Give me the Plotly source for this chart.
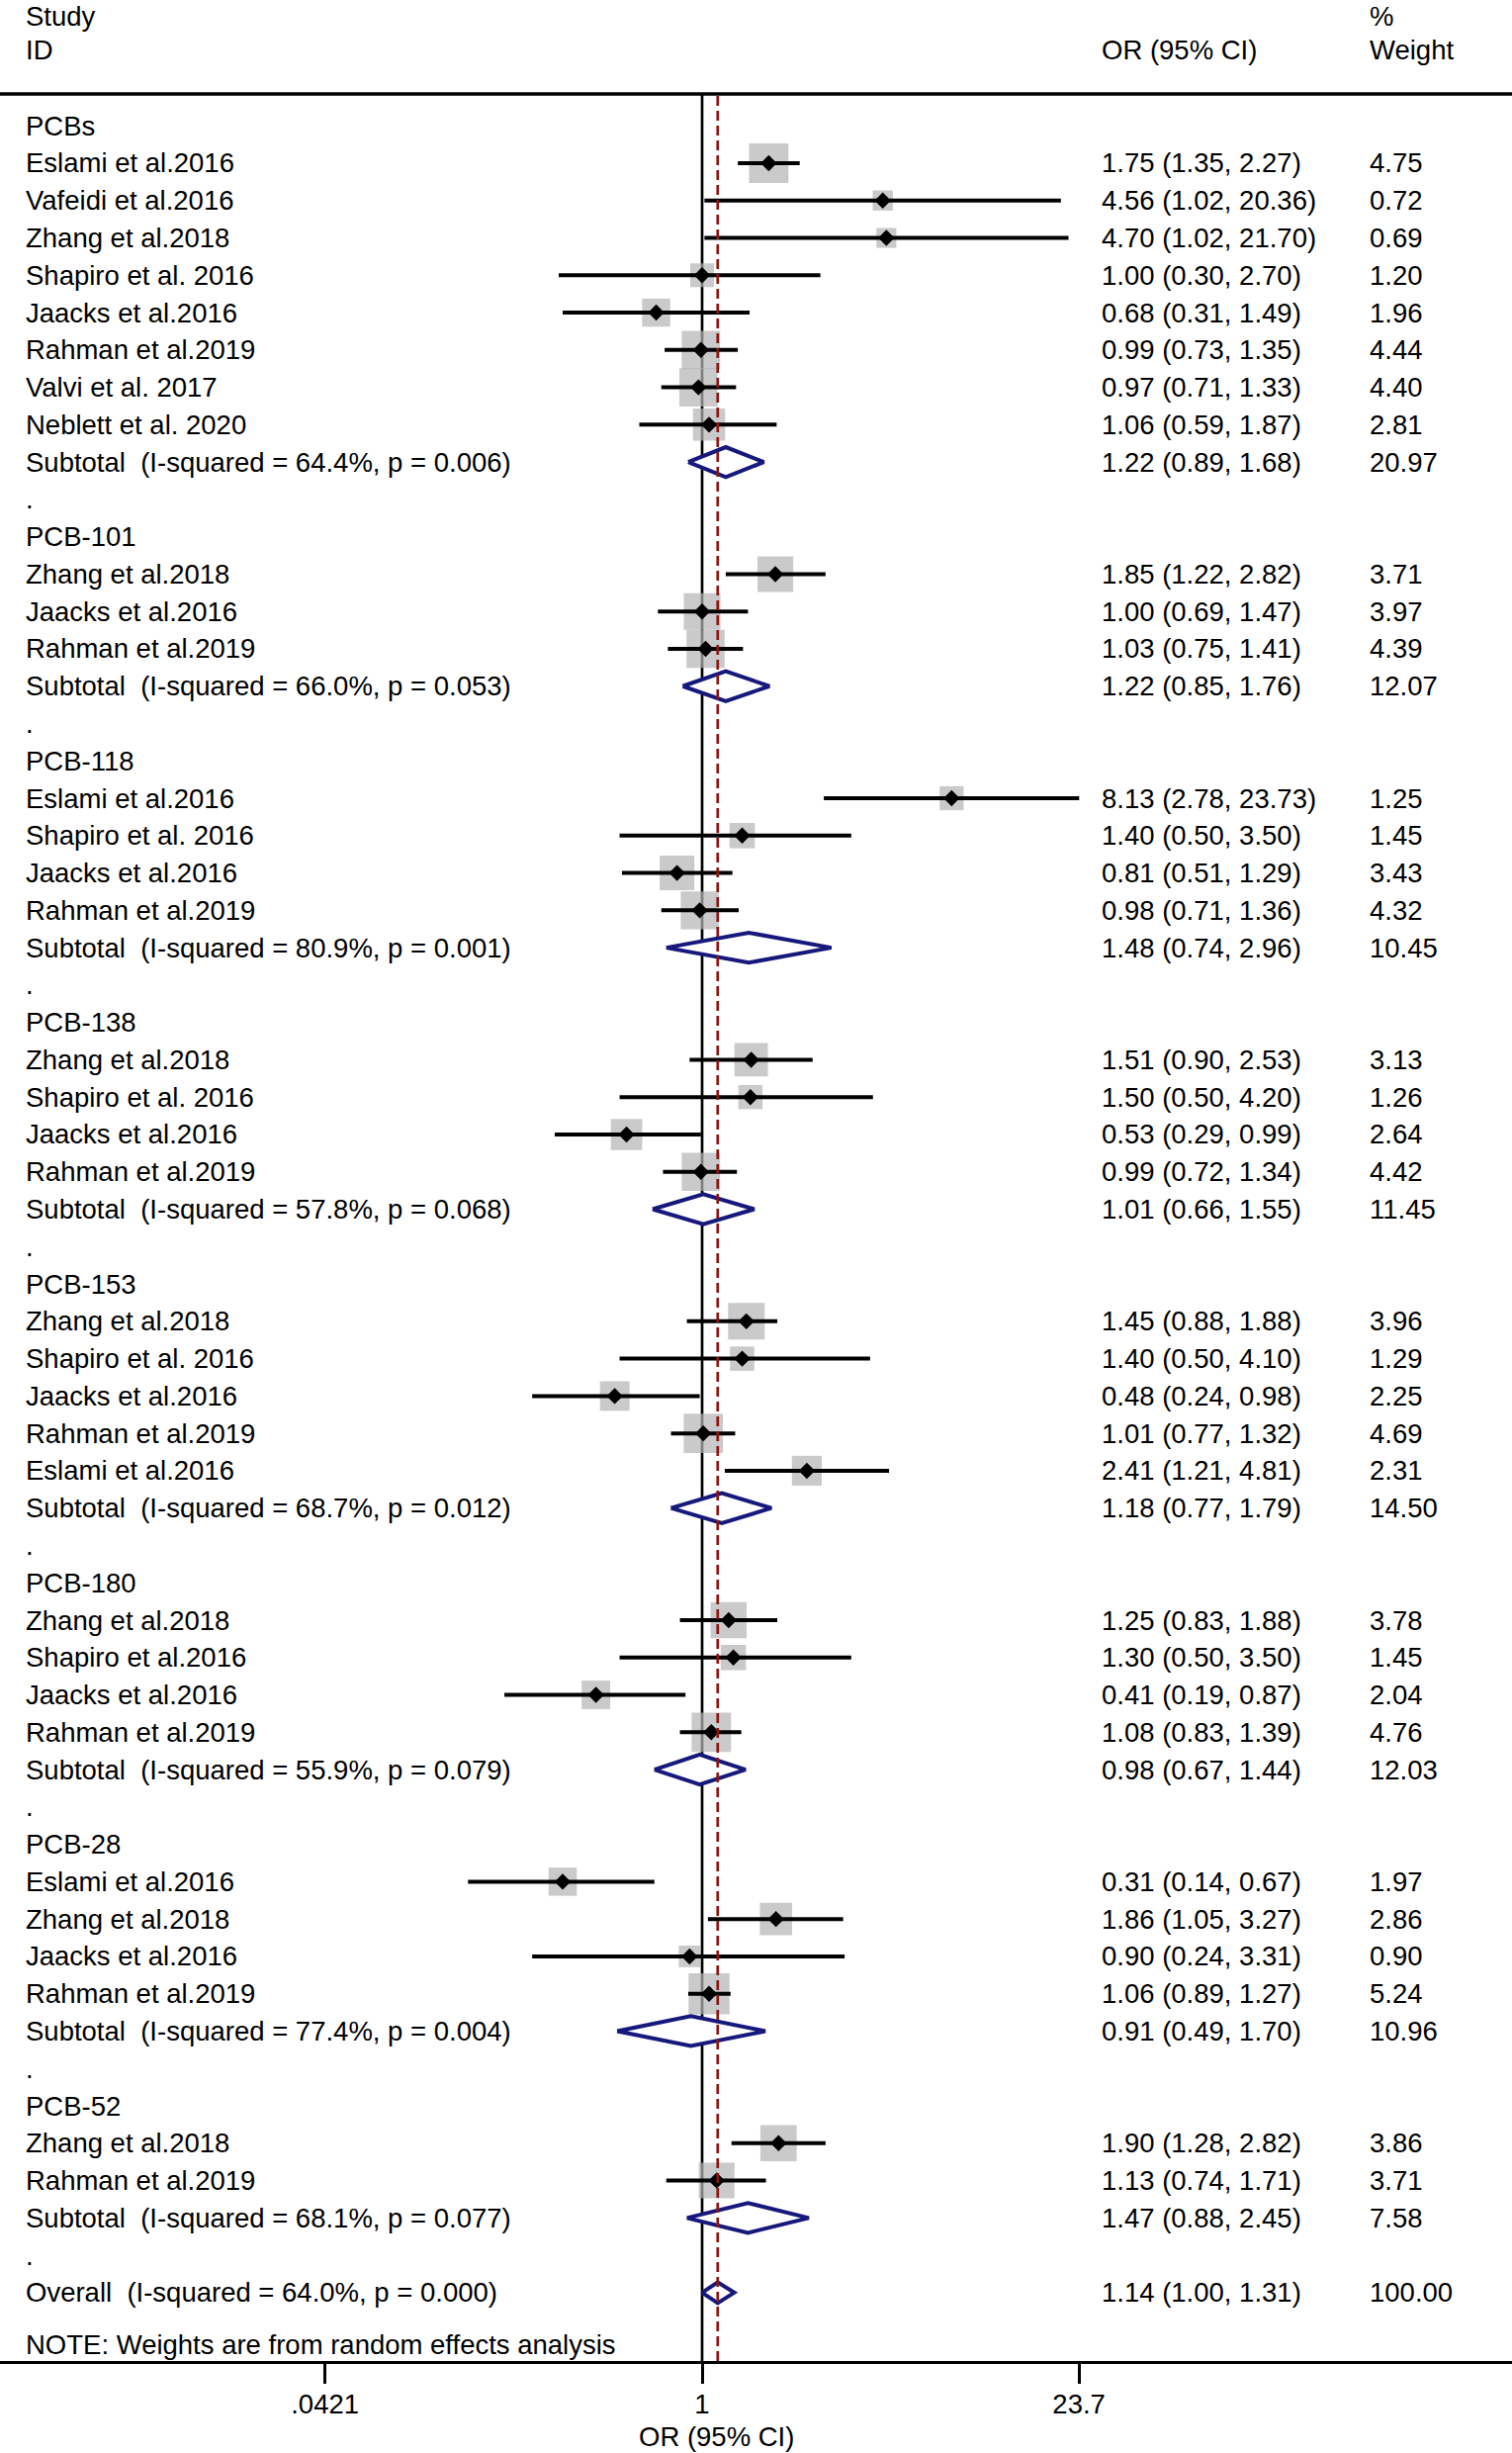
import math
import plotly.graph_objects as go

# ---------------- data ----------------
row_labels = [
    "PCBs", "Eslami et al.2016", "Vafeidi et al.2016", "Zhang et al.2018", "Shapiro et al. 2016",
    "Jaacks et al.2016", "Rahman et al.2019", "Valvi et al. 2017", "Neblett et al. 2020",
    "Subtotal  (I-squared = 64.4%, p = 0.006)", ".",
    "PCB-101", "Zhang et al.2018", "Jaacks et al.2016", "Rahman et al.2019",
    "Subtotal  (I-squared = 66.0%, p = 0.053)", ".",
    "PCB-118", "Eslami et al.2016", "Shapiro et al. 2016", "Jaacks et al.2016", "Rahman et al.2019",
    "Subtotal  (I-squared = 80.9%, p = 0.001)", ".",
    "PCB-138", "Zhang et al.2018", "Shapiro et al. 2016", "Jaacks et al.2016", "Rahman et al.2019",
    "Subtotal  (I-squared = 57.8%, p = 0.068)", ".",
    "PCB-153", "Zhang et al.2018", "Shapiro et al. 2016", "Jaacks et al.2016", "Rahman et al.2019",
    "Eslami et al.2016", "Subtotal  (I-squared = 68.7%, p = 0.012)", ".",
    "PCB-180", "Zhang et al.2018", "Shapiro et al.2016", "Jaacks et al.2016", "Rahman et al.2019",
    "Subtotal  (I-squared = 55.9%, p = 0.079)", ".",
    "PCB-28", "Eslami et al.2016", "Zhang et al.2018", "Jaacks et al.2016", "Rahman et al.2019",
    "Subtotal  (I-squared = 77.4%, p = 0.004)", ".",
    "PCB-52", "Zhang et al.2018", "Rahman et al.2019",
    "Subtotal  (I-squared = 68.1%, p = 0.077)", ".",
    "Overall  (I-squared = 64.0%, p = 0.000)",
]

or_vals = [None, 1.75, 4.56, 4.70, 1.00, 0.68, 0.99, 0.97, 1.06, 1.22, None,
           None, 1.85, 1.00, 1.03, 1.22, None,
           None, 8.13, 1.40, 0.81, 0.98, 1.48, None,
           None, 1.51, 1.50, 0.53, 0.99, 1.01, None,
           None, 1.45, 1.40, 0.48, 1.01, 2.41, 1.18, None,
           None, 1.25, 1.30, 0.41, 1.08, 0.98, None,
           None, 0.31, 1.86, 0.90, 1.06, 0.91, None,
           None, 1.90, 1.13, 1.47, None,
           1.14]
ci_low = [None, 1.35, 1.02, 1.02, 0.30, 0.31, 0.73, 0.71, 0.59, 0.89, None,
          None, 1.22, 0.69, 0.75, 0.85, None,
          None, 2.78, 0.50, 0.51, 0.71, 0.74, None,
          None, 0.90, 0.50, 0.29, 0.72, 0.66, None,
          None, 0.88, 0.50, 0.24, 0.77, 1.21, 0.77, None,
          None, 0.83, 0.50, 0.19, 0.83, 0.67, None,
          None, 0.14, 1.05, 0.24, 0.89, 0.49, None,
          None, 1.28, 0.74, 0.88, None,
          1.00]
ci_high = [None, 2.27, 20.36, 21.70, 2.70, 1.49, 1.35, 1.33, 1.87, 1.68, None,
           None, 2.82, 1.47, 1.41, 1.76, None,
           None, 23.73, 3.50, 1.29, 1.36, 2.96, None,
           None, 2.53, 4.20, 0.99, 1.34, 1.55, None,
           None, 1.88, 4.10, 0.98, 1.32, 4.81, 1.79, None,
           None, 1.88, 3.50, 0.87, 1.39, 1.44, None,
           None, 0.67, 3.27, 3.31, 1.27, 1.70, None,
           None, 2.82, 1.71, 2.45, None,
           1.31]
weights = [None, 4.75, 0.72, 0.69, 1.20, 1.96, 4.44, 4.40, 2.81, 20.97, None,
           None, 3.71, 3.97, 4.39, 12.07, None,
           None, 1.25, 1.45, 3.43, 4.32, 10.45, None,
           None, 3.13, 1.26, 2.64, 4.42, 11.45, None,
           None, 3.96, 1.29, 2.25, 4.69, 2.31, 14.50, None,
           None, 3.78, 1.45, 2.04, 4.76, 12.03, None,
           None, 1.97, 2.86, 0.90, 5.24, 10.96, None,
           None, 3.86, 3.71, 7.58, None,
           100.00]

overall_or = 1.14
tick_vals = [0.0421, 1, 23.7]
tick_text = [".0421", "1", "23.7"]
note_text = "NOTE: Weights are from random effects analysis"

# ---------------- layout constants ----------------
W, H = 1529, 2480
TOP, BOT = 95, 2387            # pixel y of top rule and x-axis line
ROW0, ROWH = 127.2, 37.77      # pixel y of row 0 and row spacing
X_ONE, PX_PER_LN = 710, 120.4  # pixel x of OR = 1 and pixels per ln unit
FONT = "Liberation Sans, Arial, Helvetica, sans-serif"
FS = 27.5
NAVY = "#17187c"
RED = "#8b1414"
GRAY = "#b3b3b3"

y_top = (TOP - ROW0) / ROWH
y_bot = (BOT - ROW0) / ROWH
ln10 = math.log(10)
x_range = [(-X_ONE / PX_PER_LN) / ln10, ((W - X_ONE) / PX_PER_LN) / ln10]


def kind(i):
    lab = row_labels[i]
    if lab == ".":
        return "blank"
    if lab.startswith("Subtotal"):
        return "subtotal"
    if lab.startswith("Overall"):
        return "overall"
    if or_vals[i] is None:
        return "group"
    return "study"


n = len(row_labels)
rows = list(range(n))
study_idx = [i for i in rows if kind(i) == "study"]
pooled_idx = [i for i in rows if kind(i) in ("subtotal", "overall")]

fig = go.Figure()

# weight boxes
fig.add_trace(go.Scatter(
    x=[or_vals[i] for i in study_idx], y=[i for i in study_idx], mode="markers",
    marker=dict(symbol="square", color=GRAY, line=dict(width=0),
                size=[8.0 + 14.6 * math.sqrt(weights[i]) for i in study_idx]),
    hoverinfo="skip", showlegend=False))

# confidence interval lines
cx, cy = [], []
for i in study_idx:
    cx += [ci_low[i], ci_high[i], None]
    cy += [i, i, None]
fig.add_trace(go.Scatter(x=cx, y=cy, mode="lines", line=dict(color="black", width=4),
                         hoverinfo="skip", showlegend=False))

# point estimates
fig.add_trace(go.Scatter(
    x=[or_vals[i] for i in study_idx], y=[i for i in study_idx], mode="markers",
    marker=dict(symbol="diamond", color="black", size=11, line=dict(color="black", width=1.5)),
    hoverinfo="skip", showlegend=False))

# pooled diamonds
for i in pooled_idx:
    h = 0.40 if kind(i) == "subtotal" else 0.28
    fig.add_trace(go.Scatter(
        x=[ci_low[i], or_vals[i], ci_high[i], or_vals[i], ci_low[i]],
        y=[i, i - h, i, i + h, i],
        mode="lines", fill="toself", fillcolor="white",
        line=dict(color=NAVY, width=4), hoverinfo="skip", showlegend=False))

shapes = [
    # line of no effect
    dict(type="line", xref="x", yref="paper", x0=1, x1=1, y0=0, y1=1,
         line=dict(color="black", width=2.7), layer="below"),
    # overall effect dashed line
    dict(type="line", xref="x", yref="paper", x0=overall_or, x1=overall_or, y0=0, y1=1,
         line=dict(color=RED, width=2.7, dash="10px,5px"), layer="above"),
    # top rule
    dict(type="line", xref="paper", yref="paper", x0=0, x1=1, y0=1, y1=1,
         line=dict(color="black", width=3.5), layer="above"),
]

anns = []
COL_LABEL = 24 / W
COL_OR = 1112 / W
COL_WT = 1383 / W


def txt(x, y, s, yref="y", yshift=0, xanchor="left", xref="paper", pad=1):
    anns.append(dict(x=x, y=y, xref=xref, yref=yref, text=s, showarrow=False,
                     xanchor=xanchor, yanchor="middle", yshift=yshift, borderpad=pad,
                     font=dict(family=FONT, size=FS, color="black")))


for i in rows:
    txt(COL_LABEL, i, row_labels[i])
    if kind(i) in ("study", "subtotal", "overall"):
        txt(COL_OR, i, f"{or_vals[i]:.2f} ({ci_low[i]:.2f}, {ci_high[i]:.2f})")
        txt(COL_WT, i, f"{weights[i]:.2f}")

# headers
txt(COL_LABEL, 1, "Study", yref="paper", yshift=TOP - 16)
txt(COL_LABEL, 1, "ID", yref="paper", yshift=TOP - 50)
txt(COL_OR, 1, "OR (95% CI)", yref="paper", yshift=TOP - 50)
txt(COL_WT, 1, "%", yref="paper", yshift=TOP - 16)
txt(COL_WT, 1, "Weight", yref="paper", yshift=TOP - 50)
# note
txt(COL_LABEL, 0, note_text, yref="paper", yshift=BOT - 2370)
# axis title
txt(724 / W, 0, "OR (95% CI)", yref="paper", yshift=BOT - 2463, xanchor="center", pad=0)

fig.update_layout(
    width=W, height=H,
    margin=dict(l=0, r=0, t=TOP, b=H - BOT, pad=0),
    paper_bgcolor="white", plot_bgcolor="white",
    showlegend=False,
    shapes=shapes, annotations=anns,
    xaxis=dict(type="log", range=x_range, autorange=False, domain=[0, 1],
               showgrid=False, zeroline=False,
               showline=True, linecolor="black", linewidth=3,
               ticks="outside", ticklen=20, tickwidth=2.7, tickcolor="black",
               tickvals=tick_vals, ticktext=tick_text, ticklabelstandoff=-3,
               tickfont=dict(family=FONT, size=FS, color="black")),
    yaxis=dict(range=[y_bot, y_top], autorange=False, visible=False,
               showgrid=False, zeroline=False),
)

fig.write_html("out.html", config={"displayModeBar": False},
               post_script="document.body.style.margin='0px';document.body.style.overflow='hidden';")
